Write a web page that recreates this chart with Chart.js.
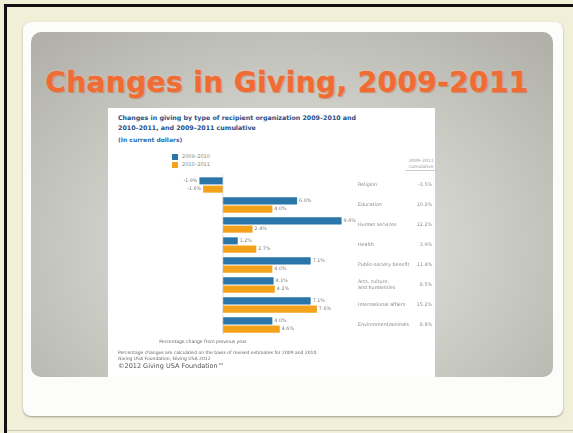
<!DOCTYPE html>
<html>
<head>
<meta charset="utf-8">
<script src="https://cdn.jsdelivr.net/npm/chart.js@4.4.1/dist/chart.umd.min.js"></script>
<style>
  html, body { margin: 0; padding: 0; }
  body { width: 573px; height: 433px; background: #f2efd9; position: relative; overflow: hidden; font-family: "DejaVu Sans", sans-serif; }
  .edge-left { position: absolute; left: 4px; top: 4px; width: 3px; height: 429px; background: #111; }
  .edge-top { position: absolute; left: 4px; top: 4px; width: 569px; height: 3px; background: #111; }
  .edge-bottom { position: absolute; left: 7px; top: 430px; width: 566px; height: 1px; background: #cfcbb8; }
  .frame { position: absolute; left: 23px; top: 22px; width: 540px; height: 394px; background: #fcfcfa; border-radius: 8px; box-shadow: 0 1px 2px rgba(80,70,60,0.5); }
  .slide { position: absolute; left: 31px; top: 32px; width: 522px; height: 345px; border-radius: 10px;
           background: radial-gradient(ellipse 70% 80% at 50% 62%, #ecece7 0%, #d2d2cc 45%, #b1b1aa 100%); }
  .slide-title { position: absolute; left: 21px; top: 66px; width: 532px; text-align: center; margin: 0;
                 font: bold 28px "DejaVu Sans", sans-serif; color: #f06c35; letter-spacing: 0.4px;
                 -webkit-text-stroke: 0.4px #ef6a32;
                 text-shadow: 0 0 2px rgba(255,220,200,0.9), 1px 1px 1px rgba(120,70,40,0.45); }
  .panel { position: absolute; left: 108px; top: 108px; width: 327px; height: 269px; background: #fff; }
  .panel canvas { position: absolute; left: 0; top: 0; }
  .ptitle { position: absolute; left: 10px; top: 5px; font: bold 6.3px "DejaVu Sans", sans-serif; color: #1f4e86; line-height: 10px; }
  .psub { position: absolute; left: 10px; top: 28px; font: bold 6px "DejaVu Sans", sans-serif; color: #2b6cb0; }
  .legend { position: absolute; left: 64px; top: 44px; font: 5px "DejaVu Sans", sans-serif; color: #888; line-height: 8px; }
  .legend span { display: inline-block; width: 6px; height: 6px; margin-right: 4px; vertical-align: middle; }
  .colhead { position: absolute; left: 297px; top: 50px; width: 32px; text-align: center; font: 4.5px "DejaVu Sans", sans-serif; color: #999; line-height: 6px; border-bottom: 0.5px solid #ccc; white-space: nowrap; }
  .axisnote { position: absolute; left: 40px; top: 231px; width: 110px; text-align: center; font: 4.5px "DejaVu Sans", sans-serif; color: #666; }
  .foot { position: absolute; left: 10px; top: 242px; font: 4.5px "DejaVu Sans", sans-serif; color: #666; line-height: 6px; }
  .copy { position: absolute; left: 10px; top: 254px; font: 6.5px "DejaVu Sans", sans-serif; color: #555; }
</style>
</head>
<body>
<div class="edge-top"></div>
<div class="edge-left"></div>
<div class="edge-bottom"></div>
<div class="frame"></div>
<div class="slide"></div>
<h1 class="slide-title">Changes in Giving, 2009-2011</h1>
<div class="panel">
  <div class="ptitle">Changes in giving by type of recipient organization 2009–2010 and<br>2010–2011, and 2009–2011 cumulative</div>
  <div class="psub">(In current dollars)</div>
  <div class="legend" id="legend"></div>
  <div class="colhead">2009–2011<br>cumulative</div>
  <canvas id="givingChart" width="327" height="269"></canvas>
  <div class="axisnote">Percentage change from previous year</div>
  <div class="foot">Percentage changes are calculated on the basis of revised estimates for 2009 and 2010.<br>Giving USA Foundation, Giving USA 2012</div>
  <div class="copy">©2012 Giving USA Foundation™</div>
</div>

<script>
// giving by recipient type, % change in current dollars
const categories = ['Religion', 'Education', 'Human services', 'Health', 'Public-society benefit',
                    ['Arts, culture,', 'and humanities'], 'International affairs', 'Environment/animals'];
const seriesLabels = ['2009–2010', '2010–2011'];
const change2010 = [-1.9, 6.0, 9.6, 1.2, 7.1, 4.1, 7.1, 4.0];
const change2011 = [-1.6, 4.0, 2.4, 2.7, 4.0, 4.2, 7.6, 4.6];
const cumulative = ['-3.5%', '10.2%', '12.2%', '3.9%', '11.4%', '8.5%', '15.2%', '8.8%'];

const blue = '#2a76a8';
const orange = '#f4a21c';

// small legend squares
document.getElementById('legend').innerHTML =
    '<span style="background:' + blue + '"></span>' + seriesLabels[0] + '<br>' +
    '<span style="background:' + orange + '"></span>' + seriesLabels[1];

// zero line, bar value labels, category names and cumulative column
const tablePlugin = {
    id: 'tablePlugin',
    afterDatasetsDraw(chart) {
        const ctx = chart.ctx;
        const x = chart.scales.x;
        const y = chart.scales.y;
        ctx.save();

        const zero = x.getPixelForValue(0);
        ctx.strokeStyle = '#c8c8c8';
        ctx.lineWidth = 0.6;
        ctx.beginPath();
        ctx.moveTo(zero, chart.chartArea.top);
        ctx.lineTo(zero, chart.chartArea.bottom);
        ctx.stroke();

        ctx.font = '4.8px "DejaVu Sans"';
        ctx.fillStyle = '#7a7a7a';
        ctx.textBaseline = 'middle';
        chart.data.datasets.forEach((ds, di) => {
            chart.getDatasetMeta(di).data.forEach((bar, i) => {
                const v = ds.data[i];
                const label = v.toFixed(1) + '%';
                if (v < 0) {
                    ctx.textAlign = 'right';
                    ctx.fillText(label, bar.x - 2, bar.y);
                } else {
                    ctx.textAlign = 'left';
                    ctx.fillText(label, bar.x + 2, bar.y);
                }
            });
        });

        ctx.fillStyle = '#8a8a8a';
        categories.forEach((cat, i) => {
            const cy = y.getPixelForValue(i);
            const lines = Array.isArray(cat) ? cat : [cat];
            ctx.textAlign = 'left';
            lines.forEach((line, k) => {
                ctx.fillText(line, 250, cy + (k - (lines.length - 1) / 2) * 6);
            });
            ctx.textAlign = 'right';
            ctx.fillText(cumulative[i], 324, cy);
        });
        ctx.restore();
    }
};

new Chart(document.getElementById('givingChart'), {
    type: 'bar',
    data: {
        labels: categories,
        datasets: [
            { label: seriesLabels[0], data: change2010, backgroundColor: blue },
            { label: seriesLabels[1], data: change2011, backgroundColor: orange }
        ]
    },
    options: {
        indexAxis: 'y',
        responsive: false,
        animation: false,
        categoryPercentage: 0.83,
        barPercentage: 0.85,
        layout: { padding: { left: 84, right: 86, top: 67, bottom: 42 } },
        plugins: {
            legend: { display: false },
            tooltip: { enabled: false }
        },
        scales: {
            x: { display: false, min: -2.5, max: 10.2 },
            y: { display: false }
        }
    },
    plugins: [tablePlugin]
});
</script>
</body>
</html>
